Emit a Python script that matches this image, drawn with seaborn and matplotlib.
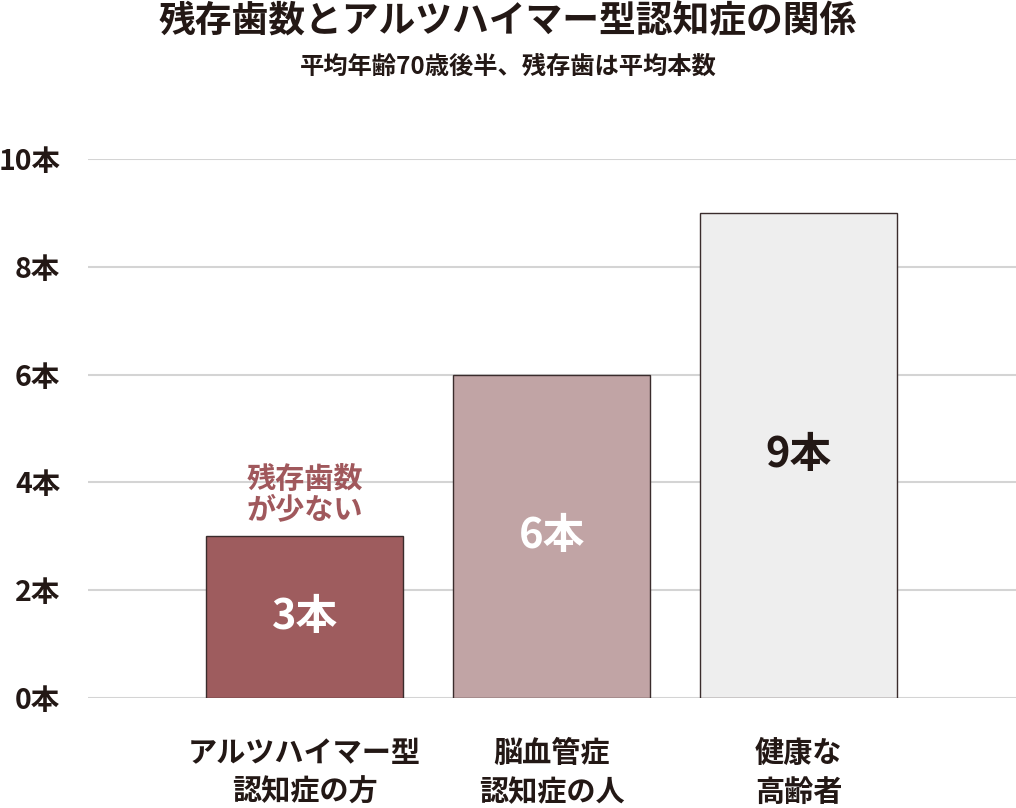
import matplotlib
matplotlib.use("Agg")
import matplotlib.pyplot as plt
import seaborn as sns
import pandas as pd

categories = ["アルツハイマー型\n認知症の方", "脳血管症\n認知症の人", "健康な\n高齢者"]
values = [3, 6, 9]
value_labels = ["3本", "6本", "9本"]
bar_colors = ["#9e5c5e", "#c1a4a5", "#eeeeee"]
label_colors = ["#ffffff", "#ffffff", "#231815"]
yticks = [0, 2, 4, 6, 8, 10]
ytick_labels = ["0本", "2本", "4本", "6本", "8本", "10本"]
title = "残存歯数とアルツハイマー型認知症の関係"
subtitle = "平均年齢70歳後半、残存歯は平均本数"
note = "残存歯数\nが少ない"

sns.set_theme(style="white")
plt.rcParams['font.family'] = ['Noto Sans CJK JP', 'DejaVu Sans']
plt.rcParams['font.weight'] = 'bold'

df = pd.DataFrame({"cat": categories, "val": values})

fig = plt.figure(figsize=(10.16, 8.08), dpi=100)
ax = fig.add_axes([88/1016, 110/808, 928/1016, 539/808])

sns.barplot(data=df, x="cat", y="val", hue="cat", palette=bar_colors,
            saturation=1, width=0.8, edgecolor="#3a2c2c", linewidth=1.0, ax=ax,
            legend=False, zorder=3)

ax.set_xlim(-0.877, 2.88)
ax.set_ylim(0, 10)
ax.set_yticks(yticks)
ax.set_yticklabels(ytick_labels, fontsize=20.5, color="#231815", fontweight="bold")
ax.tick_params(axis="y", length=0, pad=20)
ax.tick_params(axis="x", length=0, pad=29)
ax.set_xticks(range(len(categories)))
ax.set_xticklabels(categories, fontsize=21, color="#231815", fontweight="bold",
                   linespacing=1.35)
ax.set_xlabel("")
ax.set_ylabel("")
for s in ax.spines.values():
    s.set_visible(False)
ax.yaxis.grid(True, color="#d4d4d4", linewidth=1.5, zorder=0)
ax.set_axisbelow(True)

for i, (v, lab) in enumerate(zip(values, value_labels)):
    ax.text(i, v / 2, lab, ha="center", va="center", fontsize=30,
            fontweight="bold", color=label_colors[i], zorder=5)

ax.text(0, values[0] + 0.22, note, ha="center", va="bottom", fontsize=21,
        fontweight="bold", color="#a0585c", linespacing=1.0, zorder=5)

fig.text(0.5, 1 - 22/808, title, ha="center", va="center", fontsize=26.5,
         fontweight="bold", color="#231815")
fig.text(0.5, 1 - 67/808, subtitle, ha="center", va="center", fontsize=17.5,
         fontweight="bold", color="#231815")

fig.savefig("out.png", dpi=100, facecolor="white")
